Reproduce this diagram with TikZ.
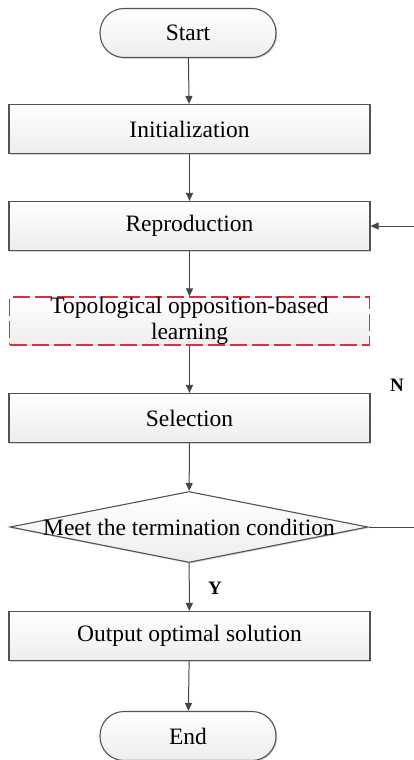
\documentclass[tikz,border=0pt]{standalone}
\usepackage{fontspec}
\setmainfont{Liberation Serif}
\usetikzlibrary{shapes.geometric,arrows.meta,shadows}
\definecolor{dashred}{RGB}{215,50,60}
\begin{document}
\begin{tikzpicture}[x=1pt,y=-1pt,
  font=\fontsize{23.5}{26}\selectfont,
  shad/.style={drop shadow={shadow xshift=1.2pt,shadow yshift=-1.2pt,opacity=0.35,fill=gray}},
  box/.style={rectangle,draw=gray!65!black,line width=1.1pt,top color=white,bottom color=gray!14,
    minimum width=361pt,minimum height=49pt,inner sep=0pt,shad},
  dbox/.style={rectangle,draw=dashred,line width=1.3pt,dash pattern=on 17pt off 5pt,
    top color=white,bottom color=gray!14,minimum width=360pt,minimum height=48pt,inner sep=0pt,align=center},
  term/.style={rectangle,rounded corners=24pt,draw=gray!65!black,line width=1.1pt,top color=white,bottom color=gray!14,
    minimum width=176pt,minimum height=49pt,inner sep=0pt,shad},
  dec/.style={diamond,draw=gray!65!black,line width=1.1pt,top color=white,bottom color=gray!14,
    minimum width=358pt,minimum height=71pt,inner sep=0pt,shad},
  arr/.style={draw=gray!55!black,line width=1pt,-{Triangle[length=8pt,width=7pt]}},
  lab/.style={font=\fontsize{19}{20}\selectfont\bfseries}]
\useasboundingbox (0,0) rectangle (413,760);
\node[term] (start) at (188,33) {Start};
\node[box] (init) at (189.5,129) {Initialization};
\node[box] (repro) at (189.5,226) {Reproduction};
\node[dbox] (tobl) at (189.5,321) {Topological opposition-based\\learning};
\node[box] (sel) at (189.5,418) {Selection};
\node[dec] (dec) at (189,527) {};
\node (dectext) at (dec.center) {Meet the termination condition};
\node[box] (out) at (189.5,636) {Output optimal solution};
\node[term] (end) at (188,736) {End};
\node[lab] (Y) at (215,588) {Y};
\node[lab] (N) at (397,385) {N};
\coordinate (fb) at (418,527);
\draw[arr] (start) -- (init);
\draw[arr] (init) -- (repro);
\draw[arr] (repro) -- (tobl);
\draw[arr] (tobl) -- (sel);
\draw[arr] (sel) -- (dec);
\draw[arr] (dec) -- (out);
\draw[arr] (out) -- (end);
\draw[arr] (dec.east) -- (fb) |- (repro.east);
\end{tikzpicture}
\end{document}
